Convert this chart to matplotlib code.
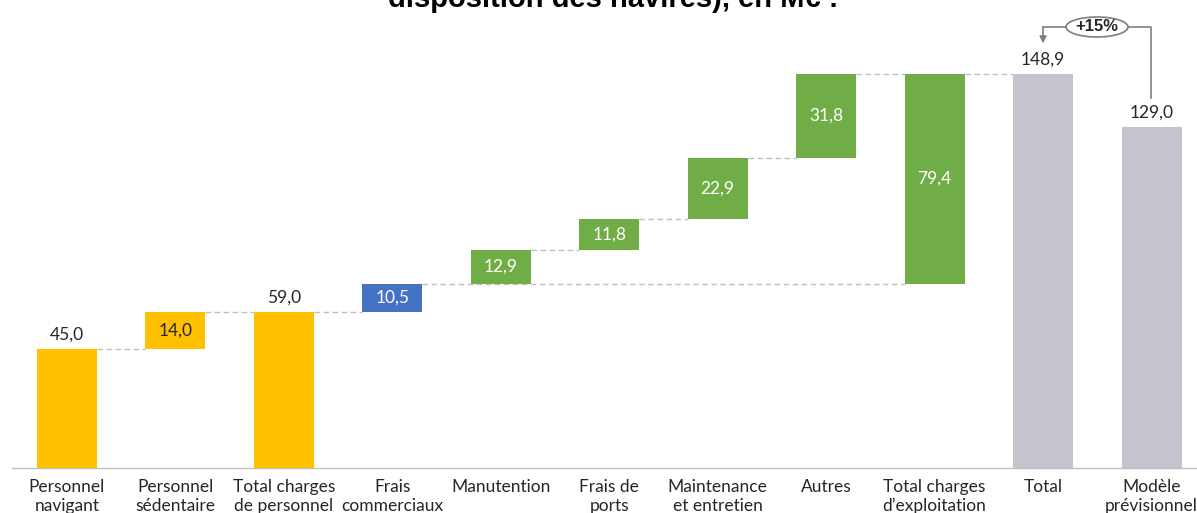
import matplotlib
matplotlib.use("Agg")
import matplotlib.pyplot as plt
from matplotlib.patches import Ellipse

categories = ["Personnel\nnavigant", "Personnel\nsédentaire", "Total charges\nde personnel",
              "Frais\ncommerciaux", "Manutention", "Frais de\nports", "Maintenance\net entretien",
              "Autres", "Total charges\nd’exploitation", "Total", "Modèle\nprévisionnel"]
values = [45.0, 14.0, 59.0, 10.5, 12.9, 11.8, 22.9, 31.8, 79.4, 148.9, 129.0]
kinds = ["delta", "delta", "total", "delta", "delta", "delta", "delta", "delta", "subtotal", "total", "total"]
labels = ["45,0", "14,0", "59,0", "10,5", "12,9", "11,8", "22,9", "31,8", "79,4", "148,9", "129,0"]
colors = ["#FFC000", "#FFC000", "#FFC000", "#4472C4", "#70AD47", "#70AD47", "#70AD47",
          "#70AD47", "#70AD47", "#C3C4CD", "#C3C4CD"]
label_inside = [False, True, False, True, True, True, True, True, True, False, False]
label_colors = ["#262626", "#262626", "#262626", "white", "white", "white", "white",
                "white", "white", "#262626", "#262626"]
connectors = [(0, 1), (1, 2), (2, 3), (3, 8), (4, 5), (5, 6), (6, 7), (7, 8), (8, 9)]
pct_label = "+15%"
title_text = "disposition des navires), en M€ :"

plt.rcParams['font.family'] = ['Lato', 'DejaVu Sans']

W, H = 1197, 513
fig = plt.figure(figsize=(W / 100, H / 100), dpi=100)
base_px = 468
ax = fig.add_axes([12 / W, (H - base_px) / H, 1 - 12 / W, base_px / H])

x0px, step = 67, 108.45
ax.set_xlim(-(x0px - 12) / step, (W - x0px) / step)
ax.set_ylim(0, base_px / 2.647)

# compute bottoms
bottoms = []
running = 0.0
for v, k in zip(values, kinds):
    if k == "delta":
        bottoms.append(running)
        running += v
    elif k == "subtotal":
        bottoms.append(running - v)
    else:
        bottoms.append(0.0)
tops = [b + v for b, v in zip(bottoms, values)]

width = 60 / step
xs = list(range(len(values)))
ax.bar(xs, values, bottom=bottoms, width=width, color=colors, zorder=3)

for i, j in connectors:
    lvl = tops[i]
    ax.plot([i + width / 2, j - width / 2], [lvl, lvl], color="#BFBFBF", lw=1,
            ls=(0, (4, 2.5)), zorder=2)

for i, (b, v) in enumerate(zip(bottoms, values)):
    if label_inside[i]:
        ax.text(i, b + v / 2, labels[i], ha="center", va="center", fontsize=12.5,
                color=label_colors[i], zorder=4)
    else:
        ax.annotate(labels[i], (i, b + v), xytext=(0, 10), textcoords="offset points",
                    ha="center", va="center", fontsize=12.5, color=label_colors[i])

for s in ["top", "right", "left"]:
    ax.spines[s].set_visible(False)
ax.spines["bottom"].set_color("#BFBFBF")
ax.spines["bottom"].set_linewidth(1)
ax.set_yticks([])
ax.set_xticks(xs)
ax.set_xticklabels(categories, fontsize=12.5, color="#262626", linespacing=1.2)
ax.tick_params(axis="x", length=0, pad=8)

# +15% annotation (pixel-based figure coords)
def fx(px):
    return px / W
def fy(py):
    return 1 - py / H

line_col = "#7F7F7F"
ecx, ecy = 1097, 27
fig.add_artist(plt.Line2D([fx(1128), fx(1151), fx(1151)], [fy(ecy), fy(ecy), fy(98)],
                          color=line_col, lw=1.2))
fig.add_artist(plt.Line2D([fx(1066), fx(1043)], [fy(ecy), fy(ecy)], color=line_col, lw=1.2))
ax.annotate("", xy=(9, 148.9 + 11.5), xycoords="data",
            xytext=(fx(1043), fy(ecy)), textcoords="figure fraction",
            arrowprops=dict(arrowstyle="-|>", color=line_col, lw=1.2,
                            mutation_scale=10, shrinkA=0, shrinkB=0))
ell = Ellipse((fx(ecx), fy(ecy)), 62 / W, 20 / H, transform=fig.transFigure,
              facecolor="white", edgecolor=line_col, lw=1.2)
fig.add_artist(ell)
fig.text(fx(ecx), fy(ecy), pct_label, ha="center", va="center", fontsize=12,
         fontweight="bold", color="#262626", family=["Liberation Sans", "DejaVu Sans"])

fig.text(fx(613), fy(7), title_text, ha="center", va="baseline", fontsize=21,
         fontweight="bold", color="black", family=["Liberation Sans", "DejaVu Sans"])

fig.savefig("out.png", dpi=100)
